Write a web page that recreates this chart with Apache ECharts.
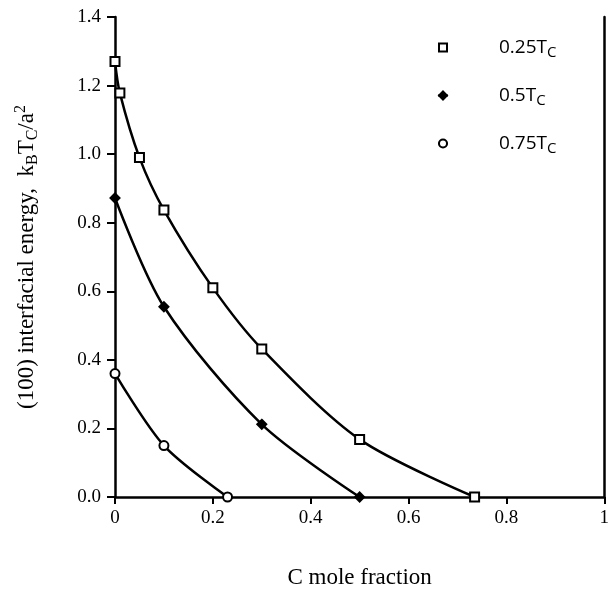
<!DOCTYPE html>
<html><head><meta charset="utf-8">
<script src="https://cdn.jsdelivr.net/npm/echarts@6/dist/echarts.min.js"></script>
<style>html,body{margin:0;padding:0;background:#fff}#c{width:612px;height:594px}</style>
</head><body><div id="c"></div>
<script>
var xTicks = [0, 0.2, 0.4, 0.6, 0.8, 1];
var yTicks = [0, 0.2, 0.4, 0.6, 0.8, 1.0, 1.2, 1.4];
var seriesNames = ['0.25T', '0.5T', '0.75T'];
var x025 = [0, 0.01, 0.05, 0.1, 0.2, 0.3, 0.5, 0.735];
var y025 = [1.27, 1.178, 0.99, 0.837, 0.61, 0.432, 0.168, 0];
var x05 = [0, 0.1, 0.3, 0.5];
var y05 = [0.872, 0.555, 0.212, 0];
var x075 = [0, 0.1, 0.23];
var y075 = [0.36, 0.15, 0];

function pairs(xs, ys){ return xs.map(function(x,i){return [x, ys[i]];}); }
var chart = echarts.init(document.getElementById('c'));
var serif = '"Liberation Serif", "DejaVu Serif", serif';
var sans = '"Open Sans", "DejaVu Sans", sans-serif';
var lineW = 2.5;
function mk(name, data, symbol, size, fill){
  return {
    name: name, type: 'line', data: data, smooth: 0.3,
    symbol: symbol, symbolSize: size, showAllSymbol: true,
    lineStyle: {color: '#000', width: lineW},
    itemStyle: {color: fill, borderColor: '#000', borderWidth: 2},
    z: 3
  };
}
chart.setOption({
  animation: false,
  backgroundColor: '#fff',
  grid: {left: 115, right: 2, top: 17, bottom: 81, containLabel: false},
  legend: {
    orient: 'vertical', left: 432, top: 33, itemGap: 26,
    itemWidth: 10, itemHeight: 10,
    data: seriesNames,
    formatter: function(n){ return '{a|' + n + '}{s|C}'; },
    textStyle: {
      padding: [0, 0, 0, 46],
      rich: {
        a: {fontFamily: sans, fontSize: 19, color: '#000'},
        s: {fontFamily: sans, fontSize: 15, color: '#000', verticalAlign: 'bottom', padding: [10, 0, 0, 0]}
      }
    }
  },
  xAxis: {
    type: 'value', min: 0, max: 1, interval: 0.2,
    name: 'C mole fraction', nameLocation: 'middle', nameGap: 69,
    nameTextStyle: {fontFamily: serif, fontSize: 23, color: '#000'},
    axisLine: {show: true, onZero: false, lineStyle: {color: '#000', width: lineW}},
    axisTick: {show: true, length: 7, lineStyle: {color: '#000', width: 2}},
    axisLabel: {fontFamily: serif, fontSize: 19, color: '#000', margin: 12,
      formatter: function(v){ return xTicks.indexOf(+v.toFixed(1)) >= 0 ? String(+v.toFixed(1)) : ''; }},
    splitLine: {show: false}
  },
  yAxis: [{
    type: 'value', min: 0, max: 1.4, interval: 0.2,
    name: '(100) interfacial energy,  k{sub|B}T{sub|C}/a{sup|2}',
    nameLocation: 'middle', nameGap: 74, nameRotate: 90,
    nameTextStyle: {fontFamily: serif, fontSize: 23, color: '#000',
      rich: {
        sub: {fontFamily: serif, fontSize: 16, color: '#000', verticalAlign: 'bottom', padding: [12, 0, 0, 0]},
        sup: {fontFamily: serif, fontSize: 16, color: '#000', verticalAlign: 'top', padding: [0, 0, 12, 0]}
      }},
    axisLine: {show: true, lineStyle: {color: '#000', width: lineW}},
    axisTick: {show: true, length: 8, lineStyle: {color: '#000', width: 2}},
    axisLabel: {fontFamily: serif, fontSize: 19, color: '#000', margin: 14,
      formatter: function(v){ return v.toFixed(1); }},
    splitLine: {show: false}
  }, {
    type: 'value', min: 0, max: 1.4, position: 'right',
    axisLine: {show: true, lineStyle: {color: '#000', width: lineW}},
    axisTick: {show: false}, axisLabel: {show: false}, splitLine: {show: false}
  }],
  series: [
    mk(seriesNames[0], pairs(x025, y025), 'rect', 9, '#fff'),
    mk(seriesNames[1], pairs(x05, y05), 'diamond', 9, '#000'),
    mk(seriesNames[2], pairs(x075, y075), 'circle', 9, '#fff')
  ]
});
</script></body></html>
